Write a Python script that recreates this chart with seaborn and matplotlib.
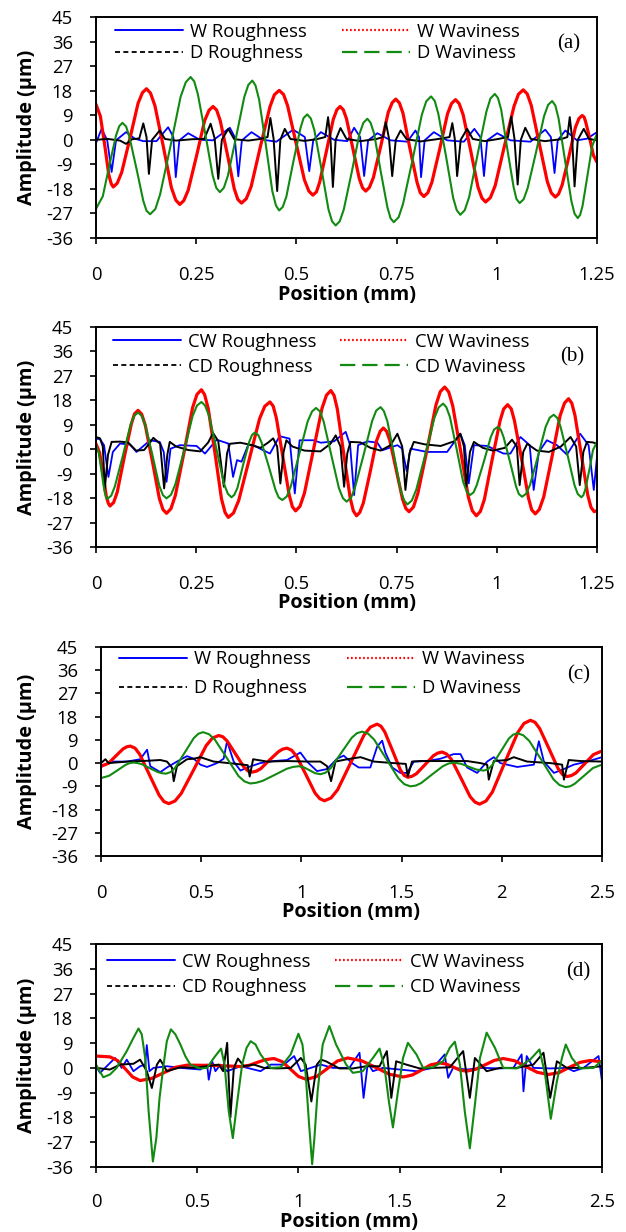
import matplotlib
matplotlib.use("Agg")
import matplotlib.pyplot as plt
from matplotlib.legend import Legend
from matplotlib.lines import Line2D
import seaborn as sns

# ---------------- data (position mm, amplitude um) ----------------
# panel (a)
a_wr_x = [0, .014, .028, .039, .050, .075, .097, .118, .151, .180, .193, .199, .208, .230, .259, .292,
          .334, .346, .355, .364, .388, .417, .450, .492, .521, .532, .542, .561, .594, .627, .644, .659,
          .669, .679, .702, .735, .777, .797, .806, .811, .820, .843, .876, .918, .944, .959, .968, .976,
          1.001, 1.034, 1.084, 1.121, 1.135, 1.144, 1.152, 1.171, 1.200, 1.225, 1.25]
a_wr_y = [-1.2, 4.0, -0.2, -11.8, -0.2, 2.8, 0.4, -0.5, -0.5, 4.6, 1.0, -13.7, -0.2, 2.4, 0.0, -0.2,
          4.4, 1.0, -13.4, -0.2, 2.8, 0.0, -0.7, 3.7, 1.0, -11.5, -0.2, 2.8, 0.0, -0.5, 4.4, 1.0,
          -13.3, -0.2, 2.4, -0.2, -0.7, 3.4, 1.0, -13.7, -0.2, 2.8, -0.2, -0.7, 4.0, 1.0, -13.3, -0.2,
          2.4, -0.2, -0.7, 3.7, 1.0, -12.2, -0.2, 3.4, -0.2, 0.4, 2.8]
a_ww_x = [0, .011, .022, .032, .038, .043,
          .053, .064, .085, .105, .116, .126, .136, .147, .168, .188, .199, .209,
          .219, .230, .251, .271, .282, .292, .301, .310, .328, .345, .354, .363,
          .375, .387, .410, .434, .445, .457, .468, .478, .499, .520, .531, .541,
          .550, .558, .575, .592, .601, .609, .617, .625, .641, .657, .665, .673,
          .682, .692, .711, .729, .739, .748, .757, .766, .783, .801, .809, .818,
          .828, .838, .858, .877, .887, .897, .906, .916, .935, .953, .963, .972,
          .984, .996, 1.019, 1.043, 1.054, 1.066, 1.076, 1.086, 1.106, 1.126, 1.136, 1.146,
          1.154, 1.163, 1.180, 1.196, 1.205, 1.213, 1.218, 1.222, 1.232, 1.241, 1.25]
a_ww_y = [13.0, 8.6, -2.2, -12.9, -16.1, -17.3,
          -15.9, -12.0, 0.7, 13.4, 17.3, 18.7, 17.1, 12.5, -2.5, -17.5, -22.1, -23.7,
          -22.3, -18.5, -5.8, 7.0, 10.8, 12.2, 10.9, 7.0, -5.5, -18.0, -21.9, -23.2,
          -21.6, -17.2, -2.6, 12.1, 16.5, 18.1, 16.6, 12.5, -1.1, -14.7, -18.8, -20.3,
          -19.1, -15.6, -4.1, 7.5, 11.0, 12.2, 11.0, 7.7, -3.3, -14.3, -17.6, -18.8,
          -17.5, -13.9, -2.0, 10.0, 13.6, 14.9, 13.5, 9.7, -3.0, -15.6, -19.4, -20.8,
          -19.4, -15.6, -3.1, 9.5, 13.3, 14.7, 13.3, 9.2, -4.1, -17.3, -21.4, -22.8,
          -21.2, -16.8, -2.3, 12.3, 16.7, 18.3, 16.8, 12.6, -1.4, -15.3, -19.5, -21.0,
          -19.9, -16.6, -6.1, 4.5, 7.8, 8.9, 8.3, 6.4, 0.4, -5.7, -8.2]
a_dr_x = [0, .030, .060, .075, .090, .108, .118, .126, .132, .140, .159, .172, .200, .240, .270,
          .286, .296, .305, .314, .330, .345, .380, .410, .428, .435, .443, .452, .460, .471, .485,
          .520, .550, .572, .579, .585, .591, .598, .610, .625, .660, .700, .716, .723, .731, .739,
          .748, .760, .775, .810, .850, .882, .889, .895, .901, .910, .926, .940, .970, 1.000, 1.028,
          1.036, 1.044, 1.052, 1.060, 1.071, 1.085, 1.120, 1.160, 1.176, 1.182, 1.188, 1.194, 1.202,
          1.217, 1.230, 1.25]
a_dr_y = [0.0, 0.3, -0.3, -1.5, 0.2, 0.5, 6.0, 1.0, -12.5, 0.0, 3.4, 0.3, -0.3, 0.2, 0.3,
          5.9, 0.5, -14.3, 0.0, 4.0, 0.2, -0.3, 0.3, 1.0, 8.0, 0.5, -18.8, 0.0, 4.0, 0.3,
          -0.4, 0.2, 1.0, 8.3, 0.5, -17.3, 0.0, 4.3, 0.3, -0.5, 0.3, 1.0, 6.5, 0.5, -13.3,
          0.0, 3.4, 0.2, -0.6, 0.2, 1.0, 6.1, 0.5, -13.3, 0.0, 4.0, 0.3, -0.5, 0.2, 1.0,
          8.5, 0.5, -16.4, 0.0, 4.4, 0.3, -0.5, 0.2, 1.0, 8.3, 0.5, -17.1, 0.0,
          4.0, 0.3, -0.2]
a_dw_x = [0, .017, .033, .050, .058, .066,
          .075, .083, .101, .118, .126, .135, .148, .160, .186, .211, .224, .236,
          .245, .254, .273, .291, .300, .309, .319, .329, .350, .370, .380, .390,
          .398, .407, .424, .440, .449, .457, .466, .475, .492, .510, .518, .527,
          .536, .545, .563, .580, .589, .598, .608, .618, .638, .657, .667, .677,
          .685, .694, .710, .727, .735, .743, .755, .766, .790, .813, .824, .836,
          .845, .854, .873, .891, .900, .909, .920, .931, .952, .974, .984, .995,
          1.003, 1.011, 1.026, 1.042, 1.049, 1.057, 1.067, 1.077, 1.098, 1.118, 1.128, 1.138,
          1.146, 1.154, 1.170, 1.186, 1.194, 1.202, 1.208, 1.214, 1.226, 1.238, 1.25]
a_dw_y = [-25.3, -20.7, -9.6, 1.6, 5.0, 6.2,
          4.9, 1.3, -10.6, -22.4, -26.0, -27.3, -25.4, -20.0, -2.2, 15.7, 21.1, 23.0,
          21.4, 16.8, 1.9, -13.0, -17.6, -19.2, -17.6, -13.2, 1.3, 15.7, 20.1, 21.7,
          19.9, 14.7, -2.1, -18.9, -24.1, -25.9, -24.6, -20.8, -8.3, 4.2, 8.0, 9.3,
          7.8, 3.4, -11.1, -25.5, -29.9, -31.4, -29.9, -25.7, -11.9, 2.0, 6.2, 7.7,
          6.3, 2.2, -11.3, -24.7, -28.8, -30.2, -28.4, -23.5, -7.2, 9.2, 14.1, 15.9,
          14.3, 9.6, -5.8, -21.2, -25.8, -27.5, -25.8, -21.0, -5.4, 10.3, 15.1, 16.8,
          15.3, 11.0, -3.2, -17.4, -21.7, -23.2, -21.8, -17.7, -4.5, 8.7, 12.8, 14.2,
          12.6, 7.9, -7.3, -22.4, -27.1, -28.7, -27.5, -24.2, -13.3, -2.3, 2.2]

# panel (b)
b_wr_x = [0, .010, .020, .031, .042, .060, .085, .101, .135, .159, .169, .176, .186, .209, .251, .272,
          .301, .330, .342, .352, .363, .380, .400, .434, .458, .483, .496, .508, .542, .561, .594,
          .623, .634, .644, .654, .677, .702, .714, .752, .764, .775, .785, .826, .876, .909, .920,
          .930, .943, .976, 1.017, 1.034, 1.059, 1.082, 1.092, 1.105, 1.125, 1.150, 1.175, 1.208,
          1.229, 1.242, 1.25]
b_wr_y = [3.9, 3.7, 1.5, -10.2, -1.0, 2.1, 1.7, -1.0, 3.3, 2.7, -1.0, -12.0, 0.2, 1.5, 1.2, -1.6,
          3.5, 2.1, -10.2, -4.0, -4.6, 1.7, 0.9, -1.6, 4.8, 3.9, -16.3, 3.3, 3.3, 2.4, 2.9,
          6.4, 1.5, -16.9, 1.5, 2.9, 2.4, -0.4, 1.5, 0.2, -8.0, 0.2, -1.0, -1.0, 5.7, 1.5,
          -12.6, 1.5, 1.2, -1.6, -1.6, 4.5, 1.5, -15.0, -1.0, 3.3, 1.5, -2.0, 5.7,
          1.5, -15.0, -2.8]
b_ww_x = [0, .009, .018, .026, .031, .035,
          .044, .053, .070, .088, .096, .105, .114, .123, .141, .158, .167, .176,
          .187, .198, .220, .241, .252, .263, .271, .280, .297, .313, .322, .330,
          .343, .356, .382, .408, .421, .434, .442, .450, .466, .482, .490, .498,
          .509, .520, .542, .564, .575, .586, .594, .602, .618, .634, .642, .650,
          .658, .667, .684, .700, .709, .717, .725, .733, .749, .765, .773, .781,
          .792, .803, .826, .848, .859, .870, .880, .890, .910, .929, .939, .949,
          .959, .969, .988, 1.008, 1.017, 1.027, 1.036, 1.044, 1.062, 1.079, 1.087, 1.096,
          1.106, 1.117, 1.138, 1.158, 1.169, 1.179, 1.187, 1.195, 1.211, 1.227, 1.235, 1.243, 1.25]
b_ww_y = [2.0, -1.3, -9.5, -17.6, -20.0, -20.9,
          -19.6, -15.8, -3.3, 9.2, 13.0, 14.3, 12.9, 8.8, -4.7, -18.1, -22.2, -23.6,
          -21.9, -17.0, -0.9, 15.3, 20.2, 21.9, 20.1, 15.0, -1.6, -18.2, -23.3, -25.1,
          -23.5, -18.9, -3.9, 11.2, 15.8, 17.4, 15.9, 11.5, -2.7, -16.8, -21.2, -22.7,
          -21.0, -16.2, -0.6, 15.1, 19.9, 21.6, 19.8, 14.9, -1.5, -17.8, -22.7, -24.5,
          -23.3, -19.8, -8.4, 3.1, 6.6, 7.8, 6.6, 3.3, -7.6, -18.5, -21.8, -23.0,
          -21.3, -16.3, -0.1, 16.2, 21.2, 22.9, 21.1, 16.0, -0.8, -17.6, -22.7, -24.5,
          -22.9, -18.5, -4.1, 10.4, 14.8, 16.4, 14.9, 10.5, -3.7, -17.9, -22.3, -23.8,
          -22.2, -17.6, -2.6, 12.4, 17.0, 18.6, 17.0, 12.5, -2.2, -16.9, -21.4, -23.0, -22.6]
b_dr_x = [0, .010, .017, .022, .030, .039, .060, .080, .100, .120, .135, .143, .160, .170, .178, .184,
          .200, .230, .260, .280, .292, .305, .319, .327, .334, .360, .390, .410, .430, .442, .452,
          .460, .468, .475, .490, .520, .560, .585, .598, .610, .619, .627, .635, .660, .685, .710,
          .735, .752, .764, .772, .782, .793, .820, .860, .895, .909, .918, .924, .933, .943, .965,
          .990, 1.020, 1.038, 1.050, 1.057, 1.066, 1.076, 1.100, 1.130, 1.160, 1.184, 1.198, 1.207,
          1.216, 1.225, 1.240, 1.25]
b_dr_y = [4.5, 4.0, 1.0, -14.4, -2.0, 2.7, 2.8, 2.5, -0.5, -0.3, 2.5, 4.2, 2.0, -14.4, -2.0, 2.7,
          1.0, -0.3, -0.8, 2.5, 6.0, 3.0, -13.8, -1.5, 2.0, 2.4, 1.5, 0.5, 2.5, 4.0, 1.0,
          -12.6, -1.0, 3.3, 1.0, -0.5, -0.8, 2.0, 5.1, 1.0, -13.8, -1.5, 2.7, 2.5, 0.5, -0.5,
          1.5, 5.7, 1.0, -15.0, -1.5, 2.7, 1.8, 1.2, 3.0, 5.7, 1.0, -13.8, -1.0, 2.7, 0.5,
          -0.5, 0.5, 3.5, 1.0, -13.2, -1.0, 2.0, -0.5, -1.0, 1.0, 4.5, 1.0, -13.2,
          -1.0, 2.7, 2.5, 2.0]
b_dw_x = [0, .007, .014, .021, .025, .028,
          .038, .047, .067, .086, .095, .105, .114, .123, .141, .158, .167, .176,
          .187, .198, .220, .241, .252, .263, .272, .282, .301, .319, .329, .338,
          .345, .353, .367, .382, .389, .396, .405, .413, .431, .448, .456, .465,
          .476, .486, .507, .528, .539, .549, .559, .568, .587, .606, .616, .625,
          .636, .646, .668, .689, .699, .710, .718, .727, .744, .760, .769, .777,
          .788, .799, .822, .844, .855, .866, .874, .883, .900, .916, .925, .933,
          .942, .950, .968, .985, .993, 1.002, 1.010, 1.017, 1.033, 1.048, 1.055, 1.063,
          1.073, 1.083, 1.103, 1.122, 1.132, 1.142, 1.151, 1.159, 1.177, 1.194, 1.202, 1.211,
          1.216, 1.221, 1.231, 1.240, 1.25]
b_dw_y = [1.5, -1.4, -8.4, -15.4, -17.5, -18.3,
          -17.1, -13.7, -2.4, 8.9, 12.3, 13.5, 12.3, 8.9, -2.3, -13.5, -16.9, -18.1,
          -16.8, -12.9, -0.4, 12.2, 16.1, 17.4, 16.1, 12.3, -0.2, -12.6, -16.4, -17.7,
          -16.8, -14.2, -5.8, 2.6, 5.2, 6.1, 5.2, 2.5, -6.3, -15.1, -17.8, -18.7,
          -17.4, -13.7, -1.8, 10.2, 13.9, 15.2, 13.9, 10.2, -2.1, -14.3, -18.0, -19.3,
          -18.0, -14.2, -1.9, 10.4, 14.2, 15.5, 14.1, 10.3, -2.4, -15.1, -18.9, -20.3,
          -18.9, -14.9, -1.8, 11.4, 15.4, 16.8, 15.5, 11.9, -0.1, -12.0, -15.6, -16.9,
          -15.9, -13.2, -4.4, 4.5, 7.2, 8.2, 7.2, 4.4, -4.7, -13.7, -16.5, -17.5,
          -16.4, -13.1, -2.4, 8.3, 11.6, 12.7, 11.5, 8.3, -2.5, -13.3, -16.5, -17.7,
          -16.9, -14.7, -7.5, -0.3, 2.7]

# panel (c)
c_wr_x = [0, .047, .130, .196, .230, .246, .296, .329, .379, .429, .463, .496, .529, .579, .612,
          .629, .662, .696, .729, .795, .862, .928, .995, 1.028, 1.078, 1.128, 1.178, 1.211, 1.253, 1.286,
          1.344, 1.378, 1.403, 1.419, 1.453, 1.494, 1.527, 1.561, 1.627, 1.694, 1.760, 1.794, 1.827, 1.877,
          1.927, 1.960, 1.993, 2.077, 2.160, 2.185, 2.210, 2.260, 2.310, 2.359, 2.426, 2.5]
c_wr_y = [-1.5, 0.6, 0.6, 1.5, 5.2, -1.2, -3.5, -1.7, 0.6, 2.7, 1.7, -0.6, -1.5, 0.0, 1.7,
          8.5, 0.6, -2.9, -1.7, 0.0, 0.8, 1.2, 4.1, 0.6, -3.1, -2.3, 1.7, 2.9, 0.0, -1.7,
          -1.7, 6.4, 8.7, 4.1, -1.7, -3.8, -3.8, 0.6, 0.8, 1.7, 3.5, 3.5, -1.7, -3.8,
          0.6, 2.3, 0.0, -1.5, -0.6, 8.5, 0.6, -3.8, -2.3, -0.6, 0.6, 2.3]
c_ww_x = [0, .037, .073, .110, .128, .146,
          .170, .194, .242, .290, .314, .338, .369, .400, .463, .525, .556, .587,
          .608, .629, .671, .712, .733, .754, .776, .798, .841, .885, .906, .928,
          .951, .975, 1.022, 1.068, 1.092, 1.115, 1.148, 1.181, 1.247, 1.312, 1.345, 1.378,
          1.397, 1.416, 1.455, 1.493, 1.512, 1.531, 1.552, 1.574, 1.617, 1.659, 1.681, 1.702,
          1.725, 1.749, 1.796, 1.842, 1.866, 1.889, 1.921, 1.953, 2.016, 2.080, 2.111, 2.143,
          2.166, 2.189, 2.235, 2.280, 2.303, 2.326, 2.348, 2.370, 2.413, 2.457, 2.5]
c_ww_y = [-1.2, -0.1, 2.7, 5.5, 6.3, 6.6,
          5.8, 3.3, -4.6, -12.4, -14.9, -15.7, -14.7, -11.8, -2.5, 6.8, 9.7, 10.7,
          10.2, 8.6, 3.6, -1.4, -3.0, -3.5, -3.1, -2.1, 1.2, 4.4, 5.4, 5.8,
          5.0, 2.8, -4.4, -11.6, -13.8, -14.6, -13.5, -10.3, 0.3, 10.8, 14.0, 15.1,
          14.3, 12.1, 4.8, -2.5, -4.7, -5.5, -5.1, -4.1, -0.6, 2.9, 3.9, 4.3,
          3.5, 1.4, -5.8, -13.0, -15.1, -15.9, -14.7, -11.2, 0.4, 11.9, 15.4, 16.6,
          15.8, 13.4, 5.7, -2.0, -4.4, -5.2, -4.8, -3.8, -0.3, 3.3, 4.7]
c_dr_x = [0, .022, .038, .130, .230, .296, .329, .354, .363, .379, .429, .463, .496, .562, .662,
          .732, .742, .759, .829, .928, 1.028, 1.095, 1.128, 1.148, 1.170, 1.228, 1.295, 1.361, 1.461,
          1.521, 1.531, 1.552, 1.594, 1.827, 1.894, 1.927, 1.935, 1.960, 2.027, 2.060, 2.126, 2.243,
          2.301, 2.310, 2.334, 2.393, 2.5]
c_dr_y = [0.0, 1.5, 0.0, 0.6, 0.9, 1.2, 0.6, -1.7, -7.0, -1.2, 1.5, 1.7, 2.3, 0.6, -0.2,
          -0.8, -5.2, 1.5, 0.6, 0.8, 0.6, 0.6, -1.2, -7.0, 0.6, 1.5, 2.3, 0.6, 0.0,
          -0.3, -5.2, 0.6, 0.8, 0.8, 0.0, -0.6, -6.4, 0.8, 1.2, 2.3, 0.6, 0.0,
          -0.6, -6.4, 1.2, 0.8, 0.6]
c_dw_x = [0, .041, .082, .122, .143, .163,
          .183, .203, .244, .284, .304, .324, .347, .370, .417, .463, .486, .509,
          .539, .568, .627, .686, .716, .745, .775, .806, .866, .927, .957, .987,
          1.014, 1.041, 1.068, 1.095, 1.121, 1.147, 1.199, 1.251, 1.277, 1.303,
          1.333, 1.363, 1.424, 1.484, 1.514, 1.544, 1.571, 1.598, 1.652, 1.706, 1.733, 1.760,
          1.798, 1.835, 1.873, 1.910, 1.931, 1.952, 1.994, 2.035, 2.056, 2.077,
          2.107, 2.137, 2.198, 2.258, 2.288, 2.318, 2.341, 2.364, 2.409, 2.455, 2.5]
c_dw_y = [-5.8, -4.9, -2.8, -0.7, 0.0, 0.2,
          0.0, -0.4, -2.0, -3.5, -3.9, -4.1, -3.5, -1.8, 4.0, 9.7, 11.4, 12.0,
          11.2, 9.1, 2.1, -5.0, -7.1, -7.9, -7.6, -6.9, -4.6, -2.2, -1.5, -1.2,
          -1.7, -2.8, -3.9, -4.3, -3.7, -1.9, 4.0, 9.8, 11.6, 12.2,
          11.4, 9.1, 1.6, -5.9, -8.2, -9.0, -8.7, -7.7, -4.4, -1.2, -0.2, 0.2,
          -0.3, -1.4, -2.5, -2.9, -2.4, -0.8, 4.4, 9.5, 11.0, 11.6,
          10.8, 8.6, 1.2, -6.3, -8.5, -9.3, -9.0, -8.0, -5.0, -1.9, -0.6]

# panel (d)
d_wr_x = [0, .020, .053, .094, .127, .152, .185, .218, .243, .251, .264, .284, .350, .417, .516,
          .549, .557, .574, .590, .615, .648, .714, .813, .863, .929, .979, 1.012, 1.061, 1.111, 1.170,
          1.252, 1.302, 1.322, 1.343, 1.368, 1.417, 1.500, 1.583, 1.665, 1.723, 1.740, 1.764, 1.831,
          1.913, 1.996, 2.062, 2.103, 2.112, 2.128, 2.161, 2.244, 2.326, 2.360, 2.409, 2.483, 2.5]
d_wr_y = [0.6, -1.8, 0.6, 3.6, 0.0, 3.0, -1.2, 0.6, 1.2, 8.3, -1.2, 0.0, 0.6, 0.0, -0.6,
          1.2, -4.3, 2.4, -1.2, 1.2, -1.2, 0.6, -1.2, 1.2, 1.2, 4.3, -1.2, 0.0, 1.2, 0.0,
          0.0, 5.5, -10.9, 1.8, -1.2, 0.0, -0.6, -1.2, 0.0, 4.9, -3.6, 0.0, -0.6,
          0.0, -0.2, 0.0, 4.9, -8.5, 4.3, 0.0, -0.2, 0.0, -1.2, 0.0, 4.3, -4.9]
d_ww_x = [0, .069, .106, .144, .181, .218, .276, .334, .392, .450, .580, .714, .755, .797, .838, .879,
          .919, .960, 1.0, 1.04, 1.091, 1.142, 1.193, 1.244, 1.312, 1.381, 1.449, 1.517, 1.562, 1.608,
          1.653, 1.698, 1.731, 1.765, 1.798, 1.831, 1.876, 1.922, 1.967, 2.012, 2.068, 2.124, 2.180,
          2.236, 2.288, 2.339, 2.391, 2.442, 2.5]
d_ww_y = [4.3, 4.0, 2.7, -0.3, -3.3, -4.6, -3.8, -1.8, 0.2, 1.0, 0.9, 0.5, 0.9, 2.0, 3.0, 3.4,
          2.3, -0.4, -3.1, -4.2, -3.1, -0.3, 2.5, 3.6, 2.6, 0.2, -2.3, -3.3, -2.6, -0.8,
          1.1, 1.8, 1.4, 0.3, -0.8, -1.2, -0.5, 1.1, 2.7, 3.4, 2.6, 0.5, -1.6,
          -2.4, -1.7, 0.2, 2.0, 2.7, 2.2]
d_dr_x = [0, .069, .119, .185, .218, .251, .276, .301, .317, .350, .417, .483, .549, .607, .628,
          .648, .664, .681, .701, .731, .780, .830, .896, .962, 1.012, 1.036, 1.064, 1.091, 1.111, 1.136,
          1.202, 1.269, 1.335, 1.401, 1.437, 1.459, 1.483, 1.533, 1.599, 1.665, 1.748, 1.814, 1.847,
          1.872, 1.930, 1.996, 2.079, 2.161, 2.211, 2.244, 2.277, 2.326, 2.409, 2.5]
d_dr_y = [0.0, -0.6, 1.2, 1.5, 3.0, -1.2, -7.3, 1.2, 3.0, -1.2, 0.2, 0.0, 0.6, 1.2, -1.2,
          9.1, -18.0, 0.0, 3.4, 0.6, 1.2, 0.0, -0.2, 0.0, 3.6, 1.2, -12.2, 1.2, 3.0, 2.4,
          -0.2, -0.2, 0.6, 0.6, 6.1, -10.9, 2.4, 1.2, -0.2, 0.0, 0.2, 6.1, -10.9,
          3.6, -1.2, 0.0, 0.0, 1.2, 5.5, -10.9, 2.4, 0.0, 0.0, 0.6]
d_dw_x = [0, .036, .069, .102, .152, .185, .210, .226, .243, .260, .281, .298, .314, .334, .350,
          .370, .392, .417, .441, .466, .516, .549, .582, .618, .635, .656, .676, .698, .722, .744,
          .764, .788, .813, .863, .912, .962, 1.0, 1.020, 1.036, 1.053, 1.068, 1.079, 1.095, 1.120, 1.153,
          1.186, 1.236, 1.269, 1.318, 1.368, 1.401, 1.426, 1.447, 1.467, 1.492, 1.517, 1.541, 1.583,
          1.616, 1.665, 1.715, 1.748, 1.773, 1.798, 1.822, 1.847, 1.872, 1.897, 1.930, 1.971, 2.012,
          2.079, 2.145, 2.191, 2.219, 2.247, 2.277, 2.302, 2.321, 2.351, 2.393, 2.459, 2.5]
d_dw_y = [1.2, -3.4, -2.4, 0.0, 6.1, 10.9, 14.3, 12.2, 3.6, -15.8, -34.0, -25.5, -10.9, 1.2, 9.7,
          14.0, 12.2, 8.5, 4.3, 1.2, -0.2, 0.0, 3.6, 7.0, 1.2, -15.8, -25.5, -12.2, 1.2, 7.3,
          9.7, 8.5, 4.9, 0.0, 0.2, 4.9, 12.4, 8.5, -2.4, -20.7, -35.0, -25.5, -8.5, 8.5, 15.2,
          8.5, 1.2, -1.8, -1.2, 3.6, 7.0, 0.0, -12.2, -21.6, -8.5, 3.6, 9.1, 4.9,
          0.0, 0.2, 2.4, 7.3, 9.5, 1.2, -15.8, -29.2, -13.4, 3.6, 12.8, 7.3, 0.0,
          -0.2, 3.0, 6.7, -2.4, -18.5, -4.9, 3.6, 8.5, 3.6, -0.2, 0.0, 2.7]

y_ticks = [-36, -27, -18, -9, 0, 9, 18, 27, 36, 45]
y_ticklabels = ['-36', '-27', '-18', '-9', '0', '9', '18', '27', '36', '45']
short_ticks = [0, 0.25, 0.5, 0.75, 1, 1.25]
short_ticklabels = ['0', '0.25', '0.5', '0.75', '1', '1.25']
long_ticks = [0, 0.5, 1, 1.5, 2, 2.5]
long_ticklabels = ['0', '0.5', '1', '1.5', '2', '2.5']

labels_wd = ['W Roughness', 'W Waviness', 'D Roughness', 'D Waviness']
labels_cwcd = ['CW Roughness', 'CW Waviness', 'CD Roughness', 'CD Waviness']

BLUE, RED, BLACK, GREEN = '#0000ff', '#ff0000', '#000000', '#128a12'

sns.set_style('ticks')
plt.rcParams['font.family'] = ['Open Sans', 'DejaVu Sans']
plt.rcParams['lines.scale_dashes'] = False
for key in ['text.color', 'axes.labelcolor', 'xtick.color', 'ytick.color', 'axes.edgecolor']:
    plt.rcParams[key] = 'black'

FW, FH = 626, 1232
fig = plt.figure(figsize=(FW / 100, FH / 100), dpi=100)

# left, top, right, bottom in pixels; legend columns x, legend row centres, tag centre
panels = [
    dict(box=(96, 17, 597, 238), xmax=1.25, ticks=short_ticks, tl=short_ticklabels, labels=labels_wd,
         series=[(a_wr_x, a_wr_y), (a_ww_x, a_ww_y), (a_dr_x, a_dr_y), (a_dw_x, a_dw_y)],
         leg_x=(115, 342), rows=(31.7, 53.3), tag='(a)', tag_xy=(569, 44), xlab=57.5, pad=16),
    dict(box=(96, 327, 597, 547), xmax=1.25, ticks=short_ticks, tl=short_ticklabels, labels=labels_cwcd,
         series=[(b_wr_x, b_wr_y), (b_ww_x, b_ww_y), (b_dr_x, b_dr_y), (b_dw_x, b_dw_y)],
         leg_x=(113, 340), rows=(341.7, 366.7), tag='(b)', tag_xy=(572, 357), xlab=55.5, pad=16),
    dict(box=(101, 647, 602, 856), xmax=2.5, ticks=long_ticks, tl=long_ticklabels, labels=labels_wd,
         series=[(c_wr_x, c_wr_y), (c_ww_x, c_ww_y), (c_dr_x, c_dr_y), (c_dw_x, c_dw_y)],
         leg_x=(119, 347), rows=(659, 688), tag='(c)', tag_xy=(579, 675), xlab=56, pad=16),
    dict(box=(96, 944, 602, 1167), xmax=2.5, ticks=long_ticks, tl=long_ticklabels, labels=labels_cwcd,
         series=[(d_wr_x, d_wr_y), (d_ww_x, d_ww_y), (d_dr_x, d_dr_y), (d_dw_x, d_dw_y)],
         leg_x=(107, 335), rows=(961.7, 987.3), tag='(d)', tag_xy=(578, 972), xlab=55.5, pad=14.5),
]

colors = [BLUE, RED, BLACK, GREEN]
widths = [1.3, 2.3, 1.4, 1.5]
FS = 13.3
LFS = 14.3

for p in panels:
    l, t, r, b = p['box']
    w, h = r - l, b - t
    ax = fig.add_axes([l / FW, 1 - b / FH, w / FW, h / FH])
    for (xs, ys), c, lw in zip(p['series'], colors, widths):
        sns.lineplot(x=xs, y=ys, ax=ax, color=c, linewidth=lw, estimator=None, sort=False,
                     solid_joinstyle='round')
    ax.set_xlim(0, p['xmax'])
    ax.set_ylim(-36, 45)
    ax.set_xticks(p['ticks'])
    ax.set_xticklabels(p['tl'])
    ax.set_yticks(y_ticks)
    ax.set_yticklabels(y_ticklabels)
    ax.tick_params(axis='both', direction='out', length=4.5, width=1.2, labelsize=FS, colors='black')
    ax.tick_params(axis='x', pad=p['pad'])
    ax.tick_params(axis='y', pad=12)
    for s in ax.spines.values():
        s.set_visible(True)
        s.set_linewidth(1.4)
        s.set_color('black')
    ax.set_xlabel('Position (mm)', fontsize=LFS, fontweight='bold', va='center')
    ax.xaxis.set_label_coords(0.5, -p['xlab'] / h)
    ax.set_ylabel('Amplitude (\u00b5m)', fontsize=LFS, fontweight='bold', va='center')
    ax.yaxis.set_label_coords(-(l - 27) / w, 0.5)

    # legend: one entry per legend box, so rows and columns sit where the reference has them
    lab = p['labels']
    handles = [Line2D([], [], color=BLUE, lw=1.4),
               Line2D([], [], color=RED, lw=1.6, linestyle=(0, (1.2, 1.7))),
               Line2D([], [], color=BLACK, lw=1.3, linestyle=(0, (3.6, 2.4))),
               Line2D([], [], color=GREEN, lw=1.6, linestyle=(0, (11, 5)))]
    cells = [(0, 0), (1, 0), (0, 1), (1, 1)]
    for hd, name, (col, row) in zip(handles, lab, cells):
        yc = 1 - (p['rows'][row] - t) / h
        leg = Legend(ax, [hd], [name], loc='center left',
                     bbox_to_anchor=((p['leg_x'][col] - l) / w, yc),
                     bbox_transform=ax.transAxes, frameon=False, borderpad=0, borderaxespad=0,
                     handlelength=3.7, handletextpad=0.38, fontsize=FS)
        ax.add_artist(leg)
    ax.text((p['tag_xy'][0] - l) / w, 1 - (p['tag_xy'][1] - t) / h, p['tag'], transform=ax.transAxes,
            ha='center', va='center', fontsize=15, family=['Liberation Serif', 'DejaVu Serif'])

fig.savefig('out.png', dpi=100)
